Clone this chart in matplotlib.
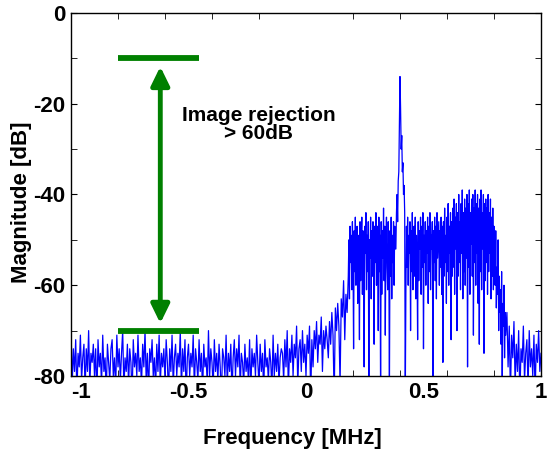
import numpy as np
import matplotlib
matplotlib.use('Agg')
import matplotlib.pyplot as plt

plt.rcParams['font.family'] = ['Liberation Sans', 'DejaVu Sans']
plt.rcParams['font.weight'] = 'bold'
plt.rcParams['axes.unicode_minus'] = False

# Spectrum magnitude in dB, piece by piece (start MHz, stop MHz, values)
# noise floor, 0.005 MHz steps
floor_left = [
    -69, -82, -74, -79, -72, -84, -75, -78, -71, -81, -76, -73, -83, -74, -79, -70, -82, -75, -77, -73,
    -80, -74, -85, -72, -78, -75, -82, -71, -79, -76, -84, -73, -77, -81, -74, -72, -80, -76, -83, -71,
    -78, -74, -81, -75, -70, -83, -76, -79, -73, -82, -74, -77, -85, -72, -78, -75, -80, -71, -79, -76,
    -82, -73, -78, -70, -81, -75, -84, -74, -77, -72, -80, -76, -83, -73, -79, -71, -82, -75, -78, -74,
    -81, -72, -77, -84, -74, -79, -71, -82, -76, -73, -80, -75, -78, -70, -83, -74, -79, -72, -85, -76,
    -73, -80, -75, -78, -71, -83, -74, -77, -81, -72, -79, -75, -84, -73, -78, -76, -82, -70, -80, -74,
    -77, -83, -72, -79, -75, -81, -73, -78, -85, -74, -76, -80, -71, -82, -75, -79, -73, -84, -76, -72,
    -80, -74, -78, -71, -83, -75, -77, -82, -73, -79, -76, -81, -72, -84, -74, -78, -75, -80, -71, -77,
    -82, -73, -79, -75, -84, -72, -78, -76, -81, -74, -77, -83, -71, -80, -75, -79, -73, -82, -76, -74,
]
# slow rise, 0.005 MHz steps
ramp = [
    -75, -81, -72, -78, -70, -83, -74, -77, -71, -80, -73, -76, -69, -82, -74, -72, -79, -70, -77, -73,
    -80, -71, -75, -69, -85, -72, -78, -70, -74, -68, -77, -71, -73, -67, -79, -70, -74, -69, -72, -76,
    -68, -73, -66, -71, -85, -65, -70, -64, -69, -82, -63, -67, -59, -72, -62, -66,
]
# signal band below the tone, 0.0025 MHz steps
band_low = [
    -58, -50, -63, -47, -55, -49, -61, -46, -53, -74, -48, -57, -45, -60, -51, -47, -64, -49, -55, -72,
    -46, -59, -50, -45, -62, -48, -56, -78, -47, -53, -44, -61, -49, -57, -46, -85, -50, -54, -45, -63,
    -48, -58, -46, -52, -73, -47, -55, -44, -60, -50, -47, -70, -45, -57, -49, -85, -46, -62, -48, -54,
    -43, -59, -47, -71, -50, -45, -56, -61, -46, -53, -84, -48, -58, -45, -63, -49, -55, -46, -60, -47, -52,
]
# tone at 0.4 MHz, 0.0025 MHz steps
tone = [-52, -44, -40, -46, -37, -35, -24, -14, -21, -30, -27, -35, -33, -40, -38, -44, -85]
# signal band above the tone, 0.0025 MHz steps
band_high = [
    -62, -47, -56, -45, -60, -49, -53, -46, -70, -48, -57, -44, -61, -50, -47, -58, -45, -63, -49, -54,
    -72, -46, -59, -48, -52, -45, -62, -47, -56, -44, -74, -49, -55, -46, -60, -48, -53, -45, -64, -47,
    -57, -44, -61, -49, -52, -46, -80, -48, -55, -45, -59, -47, -63, -44, -54, -50, -46, -60, -48, -56,
    -45, -62, -47, -77, -46, -58, -43, -55, -49, -64, -45, -57, -42, -60, -47, -53, -44, -72, -46, -58,
    -43, -56, -41, -62, -45, -52, -42, -70, -44, -58, -40, -55, -46, -61, -42, -53, -39, -63, -44, -57,
    -41, -60, -43, -54, -40, -78, -42, -56, -39, -62, -44, -51, -41, -58, -40, -71, -43, -55, -39, -60,
    -42, -53, -40, -64, -43, -73, -41, -57, -39, -61, -44, -52, -40, -75, -42, -59, -41, -55, -43, -62,
    -40, -57, -44, -53, -41, -63, -45, -58, -43, -61, -47,
]
# band edge, 0.0025 MHz steps
edge = [-52, -60, -48, -65, -56, -62, -50, -70, -58, -66, -61, -73, -57, -85, -64, -69, -60, -76, -66, -71]
# noise floor, 0.005 MHz steps
floor_right = [
    -66, -78, -69, -84, -71, -76, -68, -82, -73, -79, -70, -85, -74, -77, -69, -81, -75, -72, -83, -70,
    -78, -74, -80, -71, -84, -73, -77, -70, -79, -75,
]

pieces = [
    (-1.0, -0.105, floor_left),
    (-0.1, 0.175, ramp),
    (0.18, 0.38, band_low),
    (0.3825, 0.4225, tone),
    (0.425, 0.80, band_high),
    (0.8025, 0.85, edge),
    (0.855, 1.0, floor_right),
]
freq_mhz = np.concatenate([np.linspace(a, b, len(v)) for a, b, v in pieces])
mag_db = np.concatenate([v for a, b, v in pieces])

# annotation: image level vs. floor
image_level = -10
floor_level = -70
bar_left, bar_right = -0.80, -0.455
arrow_f = -0.62

fig = plt.figure(figsize=(5.47, 4.53), dpi=100)
ax = fig.add_axes([0.1298, 0.170, 0.8592, 0.8013])

ax.plot(freq_mhz, mag_db, color='#0000FF', lw=0.9)

# green markers
ax.plot([bar_left, bar_right], [image_level, image_level], color='#008000', lw=4.2, solid_capstyle='butt')
ax.plot([bar_left, bar_right], [floor_level, floor_level], color='#008000', lw=4.2, solid_capstyle='butt')
ax.annotate('', xy=(arrow_f, image_level - 1.8), xytext=(arrow_f, floor_level + 1.6),
            arrowprops=dict(arrowstyle='<|-|>,head_length=0.45,head_width=0.22', mutation_scale=25,
                            color='#008000', lw=3.5, shrinkA=0, shrinkB=0))
ax.text(-0.2, -24.5, 'Image rejection\n> 60dB', ha='center', va='center', fontsize=15,
        fontweight='bold', linespacing=0.95)

ax.set_xlim(-1, 1)
ax.set_ylim(-80, 0)
ax.set_xticks([-1, -0.5, 0, 0.5, 1])
ax.set_xticklabels(['-1', '-0.5', '0', '0.5', '1'])
ax.set_xticks(np.arange(-0.8, 0.81, 0.2), minor=True)
ax.set_yticks(np.arange(-80, 1, 20))
ax.set_yticks(np.arange(-70, 0, 20), minor=True)
ax.tick_params(which='both', direction='in', top=True, right=True, labelsize=16)
ax.tick_params(axis='x', which='major', length=0, pad=4)
ax.tick_params(axis='y', which='both', length=4, pad=4)
ax.tick_params(axis='x', which='minor', length=4)
ax.get_xticklabels()[0].set_horizontalalignment('left')
for s in ax.spines.values():
    s.set_linewidth(1.0)

ax.set_xlabel('Frequency [MHz]', fontsize=16, fontweight='bold')
ax.set_ylabel('Magnitude [dB]', fontsize=16, fontweight='bold')
ax.xaxis.set_label_coords(0.47, -0.143)
ax.yaxis.set_label_coords(-0.083, 0.48)

fig.savefig('out.png', dpi=100)
